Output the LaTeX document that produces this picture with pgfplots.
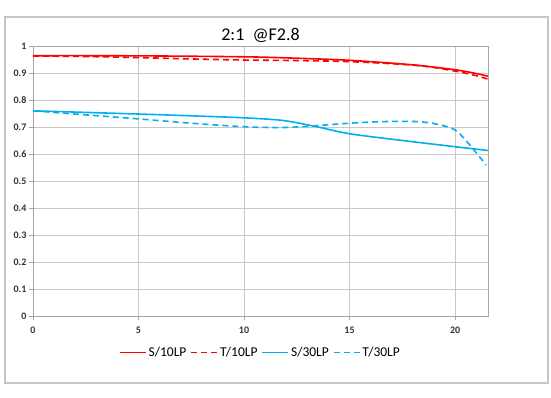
\documentclass[border=0pt]{standalone}
\usepackage{pgfplots}
\pgfplotsset{compat=1.18}
\usepackage{fontspec}
\setmainfont{Carlito}
\definecolor{mred}{RGB}{255,0,0}
\definecolor{mblue}{RGB}{0,176,240}
\definecolor{gridc}{RGB}{200,200,200}
\begin{document}
\begin{tikzpicture}[x=1pt,y=1pt]
\path[use as bounding box, fill=white] (0,0) rectangle (551,398);
\draw[color=gray!45, line width=1.6pt] (5,15) rectangle (548,381);
\node[font=\fontsize{18}{21}\selectfont] at (260.5,363) {2:1\ \ @F2.8};
\begin{axis}[
  at={(33pt,82pt)}, anchor=south west,
  width=455pt, height=270pt, scale only axis,
  xmin=0, xmax=21.56, ymin=0, ymax=1,
  xtick={0,5,10,15,20}, ytick={0,0.1,...,1.0},
  yticklabels={0,0.1,0.2,0.3,0.4,0.5,0.6,0.7,0.8,0.9,1},
  grid=major,
  major grid style={gridc, line width=0.9pt},
  axis line style={gray!70, line width=0.9pt},
  tick style={gray!70, line width=0.8pt},
  tick align=outside, major tick length=4pt,
  xtick pos=bottom, ytick pos=left,
  /pgf/number format/assume math mode=true,
  tick label style={font=\fontsize{10}{11}\selectfont\bfseries, text=black!80},
  xticklabel style={yshift=-3pt},
  yticklabel style={xshift=1pt},
  legend style={at={(0.5,-0.1)}, anchor=north, draw=none, fill=none,
    legend columns=4, font=\fontsize{13.5}{15}\selectfont,
    /tikz/every even column/.append style={column sep=2pt}},
  legend image code/.code={\draw[#1] (0pt,0pt) -- (26pt,0pt);},
  every axis plot/.append style={line width=1.6pt, smooth, no markers},
]
\addplot[mred] coordinates {(0,0.964) (3,0.964) (6,0.963) (10,0.960) (12,0.956) (15,0.947) (18,0.930) (20,0.912) (21,0.898) (21.56,0.888)};
\addlegendentry{S/10LP}
\addplot[mred, dash pattern=on 6pt off 4pt] coordinates {(0,0.963) (2.5,0.961) (5,0.957) (7.5,0.952) (10,0.948) (12.5,0.946) (15,0.942) (18.2,0.928) (20,0.907) (21,0.890) (21.56,0.877)};
\addlegendentry{T/10LP}
\addplot[mblue] coordinates {(0,0.760) (5,0.748) (8,0.740) (10,0.734) (11.86,0.724) (13.44,0.701) (15,0.675) (17.5,0.650) (20,0.627) (21.56,0.613)};
\addlegendentry{S/30LP}
\addplot[mblue, dash pattern=on 6pt off 4pt] coordinates {(0,0.760) (2.5,0.745) (5,0.730) (7.5,0.714) (10,0.701) (11.86,0.698) (13.44,0.705) (15,0.714) (16.6,0.720) (18.2,0.720) (19.1,0.711) (20,0.689) (20.7,0.633) (21.47,0.559)};
\addlegendentry{T/30LP}
\end{axis}
\end{tikzpicture}
\end{document}
